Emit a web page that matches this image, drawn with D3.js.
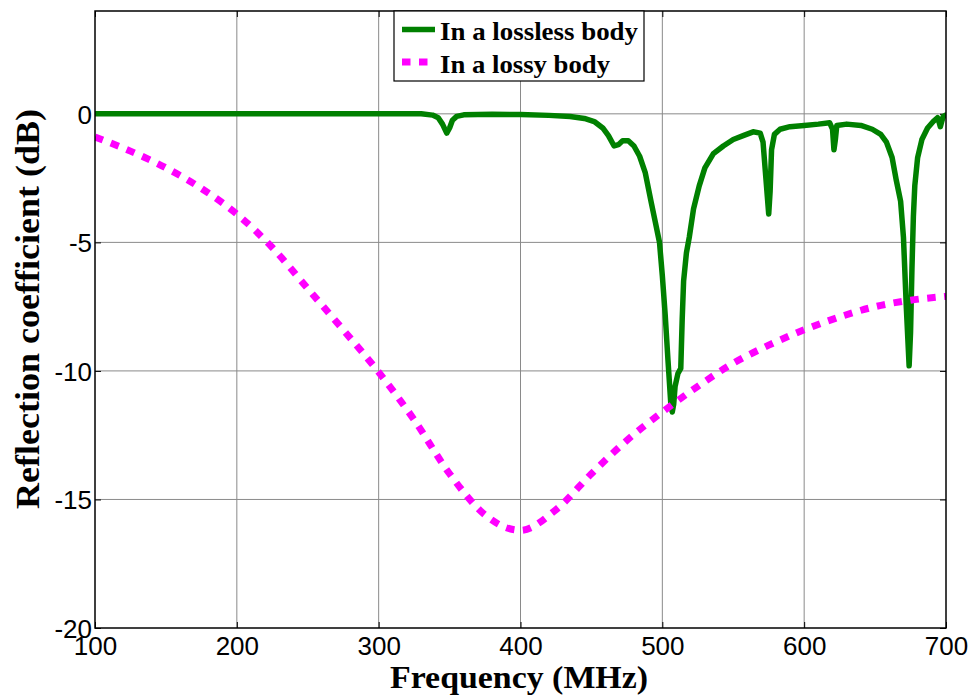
<!DOCTYPE html>
<html>
<head>
<meta charset="utf-8">
<script src="https://cdn.jsdelivr.net/npm/d3@7"></script>
<style>
  html, body { margin: 0; padding: 0; background: #fff; }
  svg { display: block; }
</style>
</head>
<body>
<svg id="chart" width="971" height="695"></svg>
<script>
// ---------- data ----------
const xTicks = [100, 200, 300, 400, 500, 600, 700];
const yTicks = [-20, -15, -10, -5, 0];
const yTickLabels = ["-20", "-15", "-10", "-5", "0"];
const seriesNames = ["In a lossless body", "In a lossy body"];

const losslessFreq = [100,200,300,330,338,342,345,348,350,352,355,360,380,400,420,435,445,452,458,462,466,469,472,476,480,484,488,492,495,498,500,502,504,506,507,508,509,511,513,514,515,517,519,522,526,530,536,543,550,557,564,569,571,573,575,576,577,579,583,590,600,610,618,620,621,622,623,630,640,648,654,658,662,665,668,670,672,674,675,676,677,678,680,683,687,691,694,695,696,697,698,700];
const losslessDb   = [0,0,0,0,-0.05,-0.15,-0.4,-0.75,-0.55,-0.25,-0.1,-0.04,-0.02,-0.03,-0.06,-0.1,-0.18,-0.3,-0.55,-0.85,-1.25,-1.2,-1.05,-1.05,-1.25,-1.65,-2.3,-3.4,-4.2,-5.0,-6.3,-7.8,-9.6,-11.3,-11.6,-11.3,-10.6,-10.1,-9.9,-8.0,-6.5,-5.4,-4.8,-3.7,-2.8,-2.1,-1.55,-1.25,-1.0,-0.85,-0.7,-0.75,-1.1,-2.5,-3.9,-3.0,-1.4,-0.8,-0.6,-0.5,-0.45,-0.4,-0.35,-0.6,-1.4,-1.0,-0.45,-0.4,-0.45,-0.6,-0.8,-1.1,-1.7,-2.6,-3.4,-4.8,-7.5,-9.8,-8.5,-6.0,-4.0,-2.8,-1.7,-1.0,-0.55,-0.3,-0.15,-0.3,-0.5,-0.3,-0.1,-0.05];

const lossyFreq = [100,125,150,175,200,225,250,275,300,325,350,375,390,400,425,450,475,500,525,550,575,600,625,650,675,700];
const lossyDb   = [-0.9,-1.45,-2.1,-2.9,-3.9,-5.2,-6.8,-8.4,-10.05,-11.9,-14.0,-15.6,-16.1,-16.2,-15.4,-14.0,-12.7,-11.6,-10.6,-9.7,-9.0,-8.4,-7.9,-7.5,-7.25,-7.1];

// ---------- layout ----------
const svg = d3.select("#chart");
const pL = 95, pR = 946, pT = 11, pB = 628;

const x = d3.scaleLinear().domain([100, 700]).range([pL, pR]);
const y = d3.scaleLinear().domain([-20, 4]).range([pB, pT]);

// grid
const grid = svg.append("g");
grid.selectAll("line.vx").data(xTicks.slice(1, -1)).enter().append("line")
  .attr("x1", d => x(d)).attr("x2", d => x(d)).attr("y1", pT).attr("y2", pB)
  .attr("stroke", "#8a8a8a").attr("stroke-width", 1);
grid.selectAll("line.hy").data(yTicks.slice(1)).enter().append("line")
  .attr("x1", pL).attr("x2", pR).attr("y1", d => y(d)).attr("y2", d => y(d))
  .attr("stroke", "#8a8a8a").attr("stroke-width", 1);

// axes with inward ticks
const tickFont = "'Liberation Sans', Arial, sans-serif";
const xAxis = d3.axisBottom(x).tickValues(xTicks).tickSizeInner(-6).tickSizeOuter(0)
  .tickFormat(d => String(d));
const gx = svg.append("g").attr("transform", `translate(0,${pB})`).call(xAxis);
gx.select(".domain").remove();
gx.selectAll("line").attr("stroke", "#000");
gx.selectAll("text").attr("font-family", tickFont).attr("font-size", 26).attr("fill", "#000")
  .attr("dy", "0.71em").attr("y", 9);

const yAxis = d3.axisLeft(y).tickValues(yTicks).tickSizeInner(-6).tickSizeOuter(0)
  .tickFormat((d, i) => yTickLabels[i]);
const gy = svg.append("g").attr("transform", `translate(${pL},0)`).call(yAxis);
gy.select(".domain").remove();
gy.selectAll("line").attr("stroke", "#000");
gy.selectAll("text").attr("font-family", tickFont).attr("font-size", 26).attr("fill", "#000")
  .attr("x", -3).attr("dy", "0.36em");

// top / right ticks
const gxt = svg.append("g").attr("transform", `translate(0,${pT})`)
  .call(d3.axisTop(x).tickValues(xTicks).tickSizeInner(-6).tickSizeOuter(0).tickFormat(""));
gxt.select(".domain").remove();
gxt.selectAll("line").attr("stroke", "#000");
const gyr = svg.append("g").attr("transform", `translate(${pR},0)`)
  .call(d3.axisRight(y).tickValues(yTicks).tickSizeInner(-6).tickSizeOuter(0).tickFormat(""));
gyr.select(".domain").remove();
gyr.selectAll("line").attr("stroke", "#000");

// clip
svg.append("clipPath").attr("id", "clip").append("rect")
  .attr("x", pL).attr("y", pT).attr("width", pR - pL).attr("height", pB - pT);

const lossless = losslessFreq.map((f, i) => [f, losslessDb[i]]);
const lossy = lossyFreq.map((f, i) => [f, lossyDb[i]]);

const plot = svg.append("g").attr("clip-path", "url(#clip)");
plot.append("path").datum(lossless)
  .attr("d", d3.line().x(d => x(d[0])).y(d => y(d[1])))
  .attr("fill", "none").attr("stroke", "#008000").attr("stroke-width", 5.5)
  .attr("stroke-linejoin", "round").attr("stroke-linecap", "round");
plot.append("path").datum(lossy)
  .attr("d", d3.line().x(d => x(d[0])).y(d => y(d[1])).curve(d3.curveMonotoneX))
  .attr("fill", "none").attr("stroke", "#ff00ff").attr("stroke-width", 7)
  .attr("stroke-dasharray", "8.5,8.5");

// box
svg.append("rect").attr("x", pL).attr("y", pT).attr("width", pR - pL).attr("height", pB - pT)
  .attr("fill", "none").attr("stroke", "#000").attr("stroke-width", 1.5);

// legend
const serif = "'Liberation Serif', 'Times New Roman', serif";
const lg = svg.append("g");
lg.append("rect").attr("x", 394).attr("y", 11).attr("width", 250).attr("height", 70)
  .attr("fill", "#fff").attr("stroke", "#000").attr("stroke-width", 1.2);
lg.append("line").attr("x1", 402).attr("x2", 435).attr("y1", 29.5).attr("y2", 29.5)
  .attr("stroke", "#008000").attr("stroke-width", 5.5);
lg.append("line").attr("x1", 402).attr("x2", 428).attr("y1", 62).attr("y2", 62)
  .attr("stroke", "#ff00ff").attr("stroke-width", 7).attr("stroke-dasharray", "8.5,8.5");
lg.append("text").attr("x", 440).attr("y", 39.5).text(seriesNames[0])
  .attr("font-family", serif).attr("font-weight", "bold").attr("font-size", 26)
  .attr("textLength", 198).attr("lengthAdjust", "spacingAndGlyphs");
lg.append("text").attr("x", 440).attr("y", 72.5).text(seriesNames[1])
  .attr("font-family", serif).attr("font-weight", "bold").attr("font-size", 26)
  .attr("textLength", 170).attr("lengthAdjust", "spacingAndGlyphs");

// axis titles
svg.append("text").attr("x", 519).attr("y", 688).attr("text-anchor", "middle")
  .attr("font-family", serif).attr("font-weight", "bold").attr("font-size", 32)
  .attr("textLength", 258).attr("lengthAdjust", "spacingAndGlyphs")
  .text("Frequency (MHz)");
svg.append("text").attr("transform", "translate(39,309) rotate(-90)").attr("text-anchor", "middle")
  .attr("font-family", serif).attr("font-weight", "bold").attr("font-size", 33)
  .attr("textLength", 400).attr("lengthAdjust", "spacingAndGlyphs")
  .text("Reflection coefficient (dB)");
</script>
</body>
</html>
